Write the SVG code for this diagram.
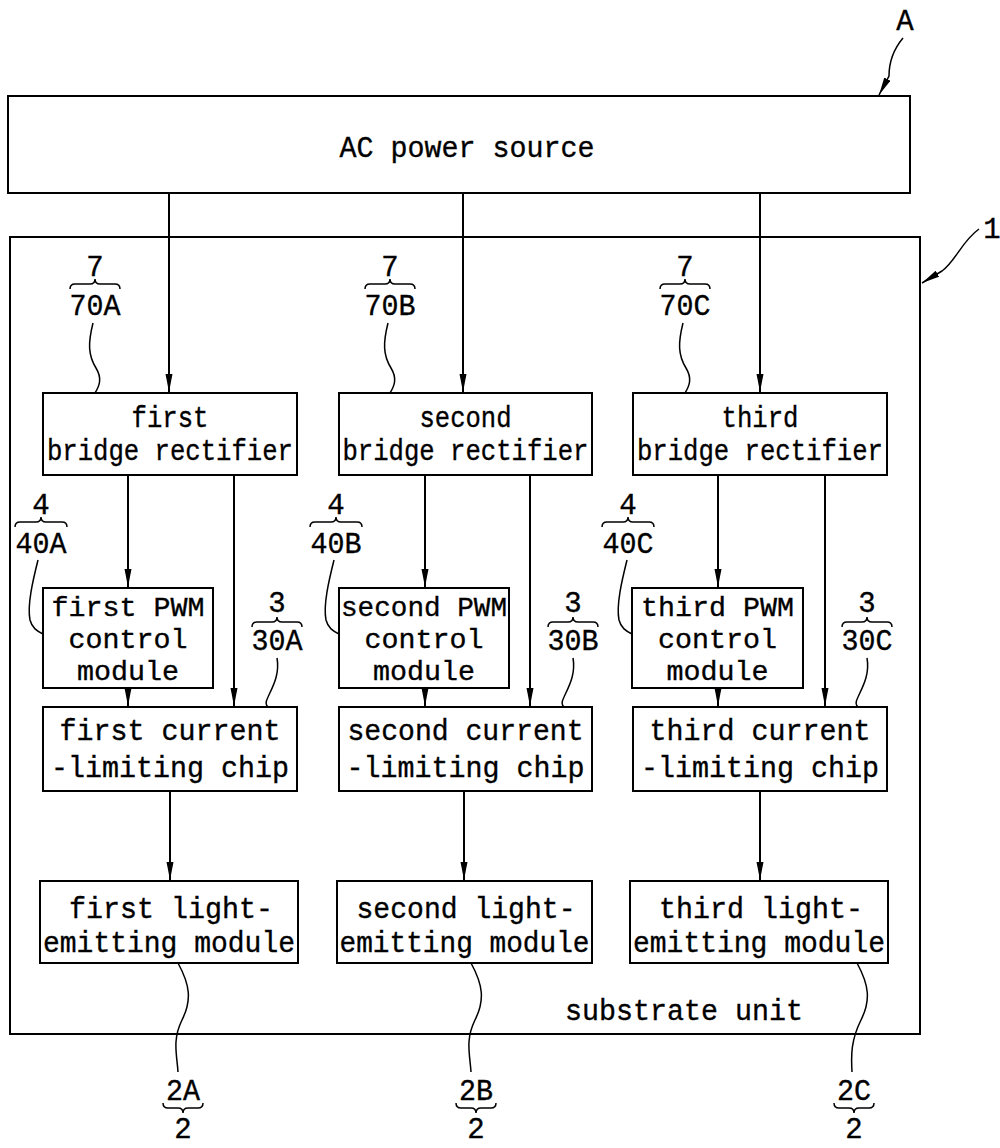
<svg xmlns="http://www.w3.org/2000/svg" width="1000" height="1148" viewBox="0 0 1000 1148">
<defs>
<style>
.box{fill:#fff;stroke:#000;stroke-width:2}
.frame{fill:none;stroke:#000;stroke-width:2}
.t{font-family:"Liberation Mono",monospace;font-size:29px;fill:#000;stroke:#000;stroke-width:0.35;text-anchor:middle}
.p{font-family:"Liberation Mono",monospace;font-size:28px;fill:#000;stroke:#000;stroke-width:0.35;text-anchor:middle}
.n{font-family:"Liberation Mono",monospace;font-size:29px;fill:#000;stroke:#000;stroke-width:0.35;text-anchor:middle}
.line{fill:none;stroke:#000;stroke-width:2}
.lead{fill:none;stroke:#000;stroke-width:1.5}
</style>
<marker id="ah" markerUnits="userSpaceOnUse" markerWidth="20" markerHeight="8" refX="18" refY="3.5" orient="auto">
<path d="M0,0 L18,3.5 L0,7 Z" fill="#000"/>
</marker>
</defs>
<rect width="1000" height="1148" fill="#fff"/>

<g id="ac-power-source">
<rect class="box" x="8" y="96" width="902" height="97"/>
<text class="t" x="467" y="157" textLength="255" lengthAdjust="spacingAndGlyphs">AC power source</text>
</g>

<g id="substrate-unit">
<rect class="frame" x="10" y="237" width="910" height="797"/>
<text class="t" x="684" y="1020" textLength="238" lengthAdjust="spacingAndGlyphs">substrate unit</text>
</g>

<g id="label-A">
<text class="n" x="905" y="30">A</text>
<path class="lead" d="M903,38 C893,50 889,62 889,76 L879,95" marker-end="url(#ah)"/>
</g>
<g id="label-1">
<text class="n" x="992" y="238">1</text>
<path class="lead" d="M979,229 C962,241 955,262 942,271 L922,283" marker-end="url(#ah)"/>
</g>

<g id="bridge-1">
<rect class="box" x="43" y="393" width="254" height="82"/>
<text class="t" x="170" y="427" textLength="77" lengthAdjust="spacingAndGlyphs">first</text>
<text class="t" x="170" y="460" textLength="246" lengthAdjust="spacingAndGlyphs">bridge rectifier</text>
</g>
<g id="bridge-2">
<rect class="box" x="339" y="393" width="253" height="82"/>
<text class="t" x="465.5" y="427" textLength="92" lengthAdjust="spacingAndGlyphs">second</text>
<text class="t" x="465.5" y="460" textLength="246" lengthAdjust="spacingAndGlyphs">bridge rectifier</text>
</g>
<g id="bridge-3">
<rect class="box" x="633" y="393" width="254" height="82"/>
<text class="t" x="760" y="427" textLength="77" lengthAdjust="spacingAndGlyphs">third</text>
<text class="t" x="760" y="460" textLength="246" lengthAdjust="spacingAndGlyphs">bridge rectifier</text>
</g>

<g id="pwm-1">
<rect class="box" x="43" y="588" width="170" height="100"/>
<text class="p" x="128" y="616" textLength="153" lengthAdjust="spacingAndGlyphs">first PWM</text>
<text class="p" x="128" y="648" textLength="119" lengthAdjust="spacingAndGlyphs">control</text>
<text class="p" x="128" y="680" textLength="102" lengthAdjust="spacingAndGlyphs">module</text>
</g>
<g id="pwm-2">
<rect class="box" x="339" y="588" width="170" height="100"/>
<text class="p" x="424" y="616" textLength="166" lengthAdjust="spacingAndGlyphs">second PWM</text>
<text class="p" x="424" y="648" textLength="119" lengthAdjust="spacingAndGlyphs">control</text>
<text class="p" x="424" y="680" textLength="102" lengthAdjust="spacingAndGlyphs">module</text>
</g>
<g id="pwm-3">
<rect class="box" x="632" y="588" width="171" height="100"/>
<text class="p" x="717.5" y="616" textLength="153" lengthAdjust="spacingAndGlyphs">third PWM</text>
<text class="p" x="717.5" y="648" textLength="119" lengthAdjust="spacingAndGlyphs">control</text>
<text class="p" x="717.5" y="680" textLength="102" lengthAdjust="spacingAndGlyphs">module</text>
</g>

<g id="chip-1">
<rect class="box" x="43" y="707" width="254" height="84"/>
<text class="t" x="170" y="740" textLength="221" lengthAdjust="spacingAndGlyphs">first current</text>
<text class="t" x="170" y="777" textLength="238" lengthAdjust="spacingAndGlyphs">-limiting chip</text>
</g>
<g id="chip-2">
<rect class="box" x="339" y="707" width="253" height="84"/>
<text class="t" x="465.5" y="740" textLength="236" lengthAdjust="spacingAndGlyphs">second current</text>
<text class="t" x="465.5" y="777" textLength="238" lengthAdjust="spacingAndGlyphs">-limiting chip</text>
</g>
<g id="chip-3">
<rect class="box" x="633" y="707" width="254" height="84"/>
<text class="t" x="760" y="740" textLength="221" lengthAdjust="spacingAndGlyphs">third current</text>
<text class="t" x="760" y="777" textLength="238" lengthAdjust="spacingAndGlyphs">-limiting chip</text>
</g>

<g id="light-1">
<rect class="box" x="40" y="881" width="258" height="82"/>
<text class="t" x="171" y="918" textLength="204" lengthAdjust="spacingAndGlyphs">first light-</text>
<text class="t" x="169" y="952" textLength="252" lengthAdjust="spacingAndGlyphs">emitting module</text>
</g>
<g id="light-2">
<rect class="box" x="337" y="881" width="255" height="82"/>
<text class="t" x="466" y="918" textLength="219" lengthAdjust="spacingAndGlyphs">second light-</text>
<text class="t" x="464.5" y="952" textLength="250" lengthAdjust="spacingAndGlyphs">emitting module</text>
</g>
<g id="light-3">
<rect class="box" x="630" y="881" width="258" height="82"/>
<text class="t" x="761" y="918" textLength="204" lengthAdjust="spacingAndGlyphs">third light-</text>
<text class="t" x="759" y="952" textLength="252" lengthAdjust="spacingAndGlyphs">emitting module</text>
</g>

<g id="labels">
<text class="n" x="95" y="276">7</text>
<path class="lead" d="M70,289 Q70,284 75,284 L90,284 Q95,284 95,279 Q95,284 100,284 L115,284 Q120,284 120,289"/>
<text class="n" x="95" y="315" textLength="51" lengthAdjust="spacingAndGlyphs">70A</text>
<path class="lead" d="M93,323 C88,343 88,355 96,368 C102,378 100,385 95,393"/>

<text class="n" x="390" y="276">7</text>
<path class="lead" d="M365,289 Q365,284 370,284 L385,284 Q390,284 390,279 Q390,284 395,284 L410,284 Q415,284 415,289"/>
<text class="n" x="390" y="315" textLength="51" lengthAdjust="spacingAndGlyphs">70B</text>
<path class="lead" d="M388,323 C383,343 383,355 391,368 C397,378 395,385 390,393"/>

<text class="n" x="685" y="276">7</text>
<path class="lead" d="M660,289 Q660,284 665,284 L680,284 Q685,284 685,279 Q685,284 690,284 L705,284 Q710,284 710,289"/>
<text class="n" x="685" y="315" textLength="51" lengthAdjust="spacingAndGlyphs">70C</text>
<path class="lead" d="M683,323 C678,343 678,355 686,368 C692,378 690,385 685,393"/>

<text class="n" x="41" y="514">4</text>
<path class="lead" d="M15,527 Q15,522 20,522 L36,522 Q41,522 41,517 Q41,522 46,522 L62,522 Q67,522 67,527"/>
<text class="n" x="41" y="553" textLength="51" lengthAdjust="spacingAndGlyphs">40A</text>
<path class="lead" d="M38,560 C33,580 27,605 30,620 C32,628 37,631 43,634"/>

<text class="n" x="336" y="514">4</text>
<path class="lead" d="M310,527 Q310,522 315,522 L331,522 Q336,522 336,517 Q336,522 341,522 L357,522 Q362,522 362,527"/>
<text class="n" x="336" y="553" textLength="51" lengthAdjust="spacingAndGlyphs">40B</text>
<path class="lead" d="M334,560 C329,580 323,605 326,620 C328,628 333,631 339,634"/>

<text class="n" x="628" y="514">4</text>
<path class="lead" d="M602,527 Q602,522 607,522 L623,522 Q628,522 628,517 Q628,522 633,522 L649,522 Q654,522 654,527"/>
<text class="n" x="628" y="553" textLength="51" lengthAdjust="spacingAndGlyphs">40C</text>
<path class="lead" d="M627,560 C622,580 616,605 619,620 C621,628 626,631 632,634"/>

<text class="n" x="277" y="612">3</text>
<path class="lead" d="M252,627 Q252,622 257,622 L272,622 Q277,622 277,617 Q277,622 282,622 L297,622 Q302,622 302,627"/>
<text class="n" x="277" y="650" textLength="51" lengthAdjust="spacingAndGlyphs">30A</text>
<path class="lead" d="M277,658 C280,675 272,688 268,697 C265,703 266,705 268,707"/>

<text class="n" x="573" y="612">3</text>
<path class="lead" d="M548,627 Q548,622 553,622 L568,622 Q573,622 573,617 Q573,622 578,622 L593,622 Q598,622 598,627"/>
<text class="n" x="573" y="650" textLength="51" lengthAdjust="spacingAndGlyphs">30B</text>
<path class="lead" d="M573,658 C576,675 568,688 564,697 C561,703 562,705 564,707"/>

<text class="n" x="867" y="612">3</text>
<path class="lead" d="M842,627 Q842,622 847,622 L862,622 Q867,622 867,617 Q867,622 872,622 L887,622 Q892,622 892,627"/>
<text class="n" x="867" y="650" textLength="51" lengthAdjust="spacingAndGlyphs">30C</text>
<path class="lead" d="M867,658 C870,675 862,688 858,697 C855,703 856,705 858,707"/>

<path class="lead" d="M178,963 C190,985 192,1000 182,1020 C172,1040 177,1055 178,1072"/>
<text class="n" x="183" y="1100" textLength="34" lengthAdjust="spacingAndGlyphs">2A</text>
<path class="lead" d="M163,1103 Q163,1108 168,1108 L178,1108 Q183,1108 183,1113 Q183,1108 188,1108 L198,1108 Q203,1108 203,1103"/>
<text class="n" x="183" y="1138">2</text>

<path class="lead" d="M471,963 C483,985 485,1000 475,1020 C465,1040 470,1055 471,1072"/>
<text class="n" x="476" y="1100" textLength="34" lengthAdjust="spacingAndGlyphs">2B</text>
<path class="lead" d="M456,1103 Q456,1108 461,1108 L471,1108 Q476,1108 476,1113 Q476,1108 481,1108 L491,1108 Q496,1108 496,1103"/>
<text class="n" x="476" y="1138">2</text>

<path class="lead" d="M857,963 C869,985 871,1000 861,1020 C851,1040 851,1055 852,1072"/>
<text class="n" x="854" y="1100" textLength="34" lengthAdjust="spacingAndGlyphs">2C</text>
<path class="lead" d="M834,1103 Q834,1108 839,1108 L849,1108 Q854,1108 854,1113 Q854,1108 859,1108 L869,1108 Q874,1108 874,1103"/>
<text class="n" x="854" y="1138">2</text>
</g>

<g id="connectors">
<path class="line" d="M169,193 V392" marker-end="url(#ah)"/>
<path class="line" d="M463,193 V392" marker-end="url(#ah)"/>
<path class="line" d="M760,193 V392" marker-end="url(#ah)"/>

<path class="line" d="M128,475 V587" marker-end="url(#ah)"/>
<path class="line" d="M425,475 V587" marker-end="url(#ah)"/>
<path class="line" d="M718,475 V587" marker-end="url(#ah)"/>

<path class="line" d="M234,475 V706" marker-end="url(#ah)"/>
<path class="line" d="M530,475 V706" marker-end="url(#ah)"/>
<path class="line" d="M825,475 V706" marker-end="url(#ah)"/>

<path class="line" d="M128,688 V706" marker-end="url(#ah)"/>
<path class="line" d="M425,688 V706" marker-end="url(#ah)"/>
<path class="line" d="M718,688 V706" marker-end="url(#ah)"/>

<path class="line" d="M170,791 V880" marker-end="url(#ah)"/>
<path class="line" d="M464,791 V880" marker-end="url(#ah)"/>
<path class="line" d="M760,791 V880" marker-end="url(#ah)"/>
</g>
</svg>
